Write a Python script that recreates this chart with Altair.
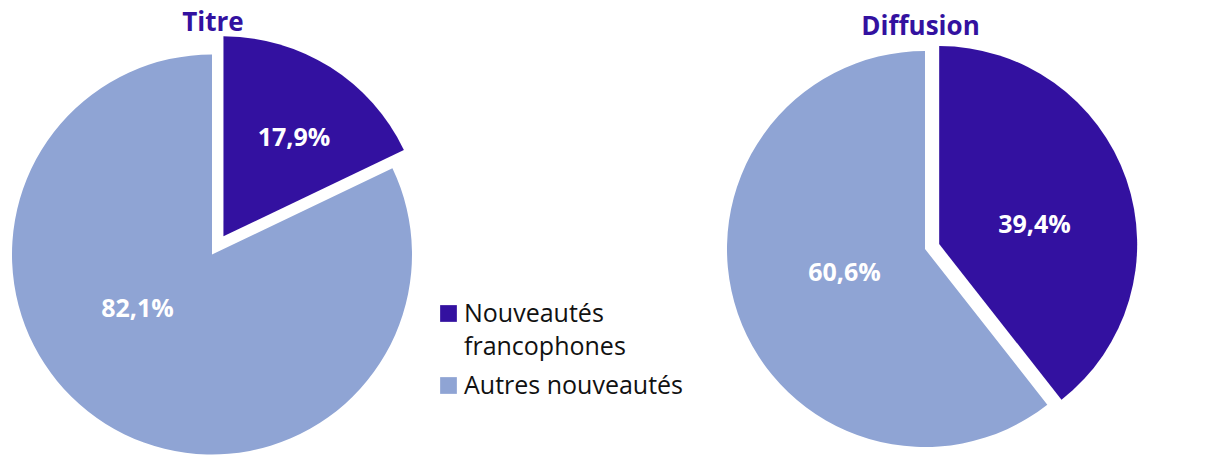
import math
import json
import altair as alt
import pandas as pd

# ---- data ----
categories = ["Nouveautés francophones", "Autres nouveautés"]
pie_titles = ["Titre", "Diffusion"]
titre_values = [17.9, 82.1]
diffusion_values = [39.4, 60.6]
titre_labels = ["17,9%", "82,1%"]
diffusion_labels = ["39,4%", "60,6%"]

# ---- style / layout ----
DARK = "#3311A0"
LIGHT = "#8FA4D4"
W, H = 1214, 448
LAYOUT = {
    "Titre": dict(cx=204, cy=246.5, r=200, explode=21.5, title_dx=1, title_y=22.7,
                  label_off=[(82, -108.5), (-74.5, 62.5)]),
    "Diffusion": dict(cx=917, cy=241, r=198, explode=15, title_dx=-4.5, title_y=27.3,
                      label_off=[(109.5, -16), (-80.5, 32)]),
}

series = {"Titre": (titre_values, titre_labels), "Diffusion": (diffusion_values, diffusion_labels)}

color_scale = alt.Scale(domain=categories, range=[DARK, LIGHT])
theta_scale = alt.Scale(domain=[0, 100], range=[0, 2 * math.pi])

first_split = json.dumps(categories[0].split(" ", 1))
label_expr = f"datum.label == '{categories[0]}' ? {first_split} : datum.label"

layers = []
for k, name in enumerate(pie_titles):
    vals, labs = series[name]
    L = LAYOUT[name]
    df = pd.DataFrame({
        "category": categories,
        "value": vals,
        "label": labs,
        "order": list(range(len(categories))),
        "explode": [L["explode"] if i == 0 else 0 for i in range(len(categories))],
        "cx": L["cx"], "cy": L["cy"],
        "tx": [L["cx"] + o[0] for o in L["label_off"]],
        "ty": [L["cy"] + o[1] for o in L["label_off"]],
    })
    legend = alt.Legend(
        orient="none", legendX=428, legendY=293, title=None,
        symbolType="square", symbolSize=280, symbolStrokeWidth=0,
        labelFont="Open Sans", labelFontSize=25, labelColor="#111111",
        labelOffset=3, labelLimit=400, rowPadding=13, labelExpr=label_expr,
    ) if k == 0 else None
    arcs = alt.Chart(df).transform_window(
        end="sum(value)", sort=[alt.SortField("order")], frame=[None, 0]
    ).transform_calculate(
        start="datum.end - datum.value",
        mid="(datum.end - datum.value/2) * 2 * PI / 100",
    ).transform_calculate(
        px="datum.cx + datum.explode * sin(datum.mid)",
        py="datum.cy - datum.explode * cos(datum.mid)",
    ).mark_arc(radius=L["r"]).encode(
        theta=alt.Theta("start:Q", scale=theta_scale, stack=None),
        theta2="end:Q",
        x=alt.X("px:Q", scale=None, axis=None),
        y=alt.Y("py:Q", scale=None, axis=None),
        color=alt.Color("category:N", scale=color_scale, legend=legend),
    )
    texts = alt.Chart(df).mark_text(
        font="Open Sans", fontWeight="bold", fontSize=25, color="white",
        align="center", baseline="alphabetic",
    ).encode(
        x=alt.X("tx:Q", scale=None, axis=None),
        y=alt.Y("ty:Q", scale=None, axis=None),
        text="label:N",
    )
    tdf = pd.DataFrame({"t": [name], "x": [L["cx"] + L["title_dx"]], "y": [L["title_y"]]})
    title = alt.Chart(tdf).mark_text(
        font="Open Sans", fontWeight="bold", fontSize=26, color=DARK,
        align="center", baseline="alphabetic",
    ).encode(
        x=alt.X("x:Q", scale=None, axis=None),
        y=alt.Y("y:Q", scale=None, axis=None),
        text="t:N",
    )
    layers += [arcs, texts, title]

chart = alt.layer(*layers).properties(
    width=W, height=H, padding=0, autosize=alt.AutoSizeParams(type="none"),
).configure(
    style={"guide-label": {"lineHeight": 33}},
    view=alt.ViewConfig(stroke=None),
)

chart.save("out.html", embed_options={"renderer": "svg", "actions": False})
